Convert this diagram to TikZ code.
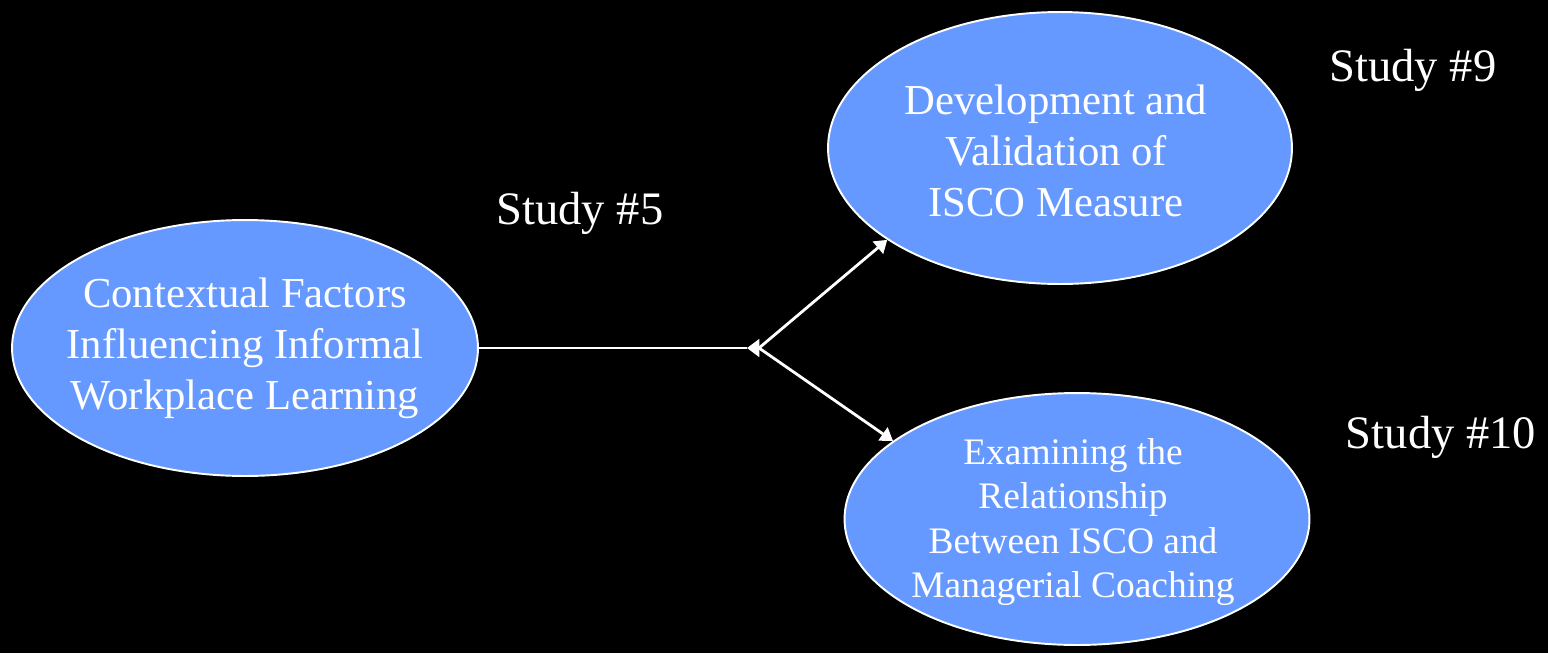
\documentclass[tikz,border=0pt]{standalone}
\usepackage{fontspec}
\setmainfont{Liberation Serif}
\usetikzlibrary{arrows.meta,positioning,shapes.geometric}
\definecolor{studyblue}{RGB}{102,153,255}

\begin{document}
\begin{tikzpicture}[x=0.02cm,y=-0.02cm,
  study/.style={ellipse,draw=white,line width=1.1pt,fill=studyblue,inner sep=0pt},
  studytext/.style={text=white,align=center,font=\fontsize{24.3}{29}\selectfont},
  label/.style={text=white,font=\fontsize{26.5}{30}\selectfont},
  link/.style={white,line width=1.6pt}]
\fill[black] (0,0) rectangle (1548,653);
\useasboundingbox (0,0) rectangle (1548,653);

% the three studies
\node[study,minimum width=9.32cm,minimum height=5.12cm] (ctx) at (245,348) {};
\node[studytext] (ctxtext) at (ctx) {Contextual Factors\\Influencing Informal\\Workplace Learning};
\node[study,minimum width=9.28cm,minimum height=5.44cm] (dev) at (1060,148) {};
\node[studytext] (devtext) at (1056,151) {Development and\\Validation of\\ISCO Measure};
\node[study,minimum width=9.3cm,minimum height=5.04cm] (exam) at (1077,519) {};
\node[studytext,font=\fontsize{21.3}{25.3}\selectfont] (examtext) at (1073,522)
  {Examining the\\Relationship\\Between ISCO and\\Managerial Coaching};

\node[label] (s5) at (580,213) {Study \#5};
\node[label] (s9) at (1413,70) {Study \#9};
\node[label] (s10) at (1441,437) {Study \#10};

% branch point
\coordinate (split) at (747,348);
\coordinate (fork) at (759,348);
\draw[link] (ctx.east) -- (split);
\draw[link,{Triangle[length=7pt,width=10pt]}-] (split) -- (fork);
\draw[link,-{Triangle[length=7pt,width=9pt]}] (fork) -- (dev.208);
\draw[link,-{Triangle[length=7pt,width=9pt]}] (fork) -- (exam.157);
\end{tikzpicture}
\end{document}
